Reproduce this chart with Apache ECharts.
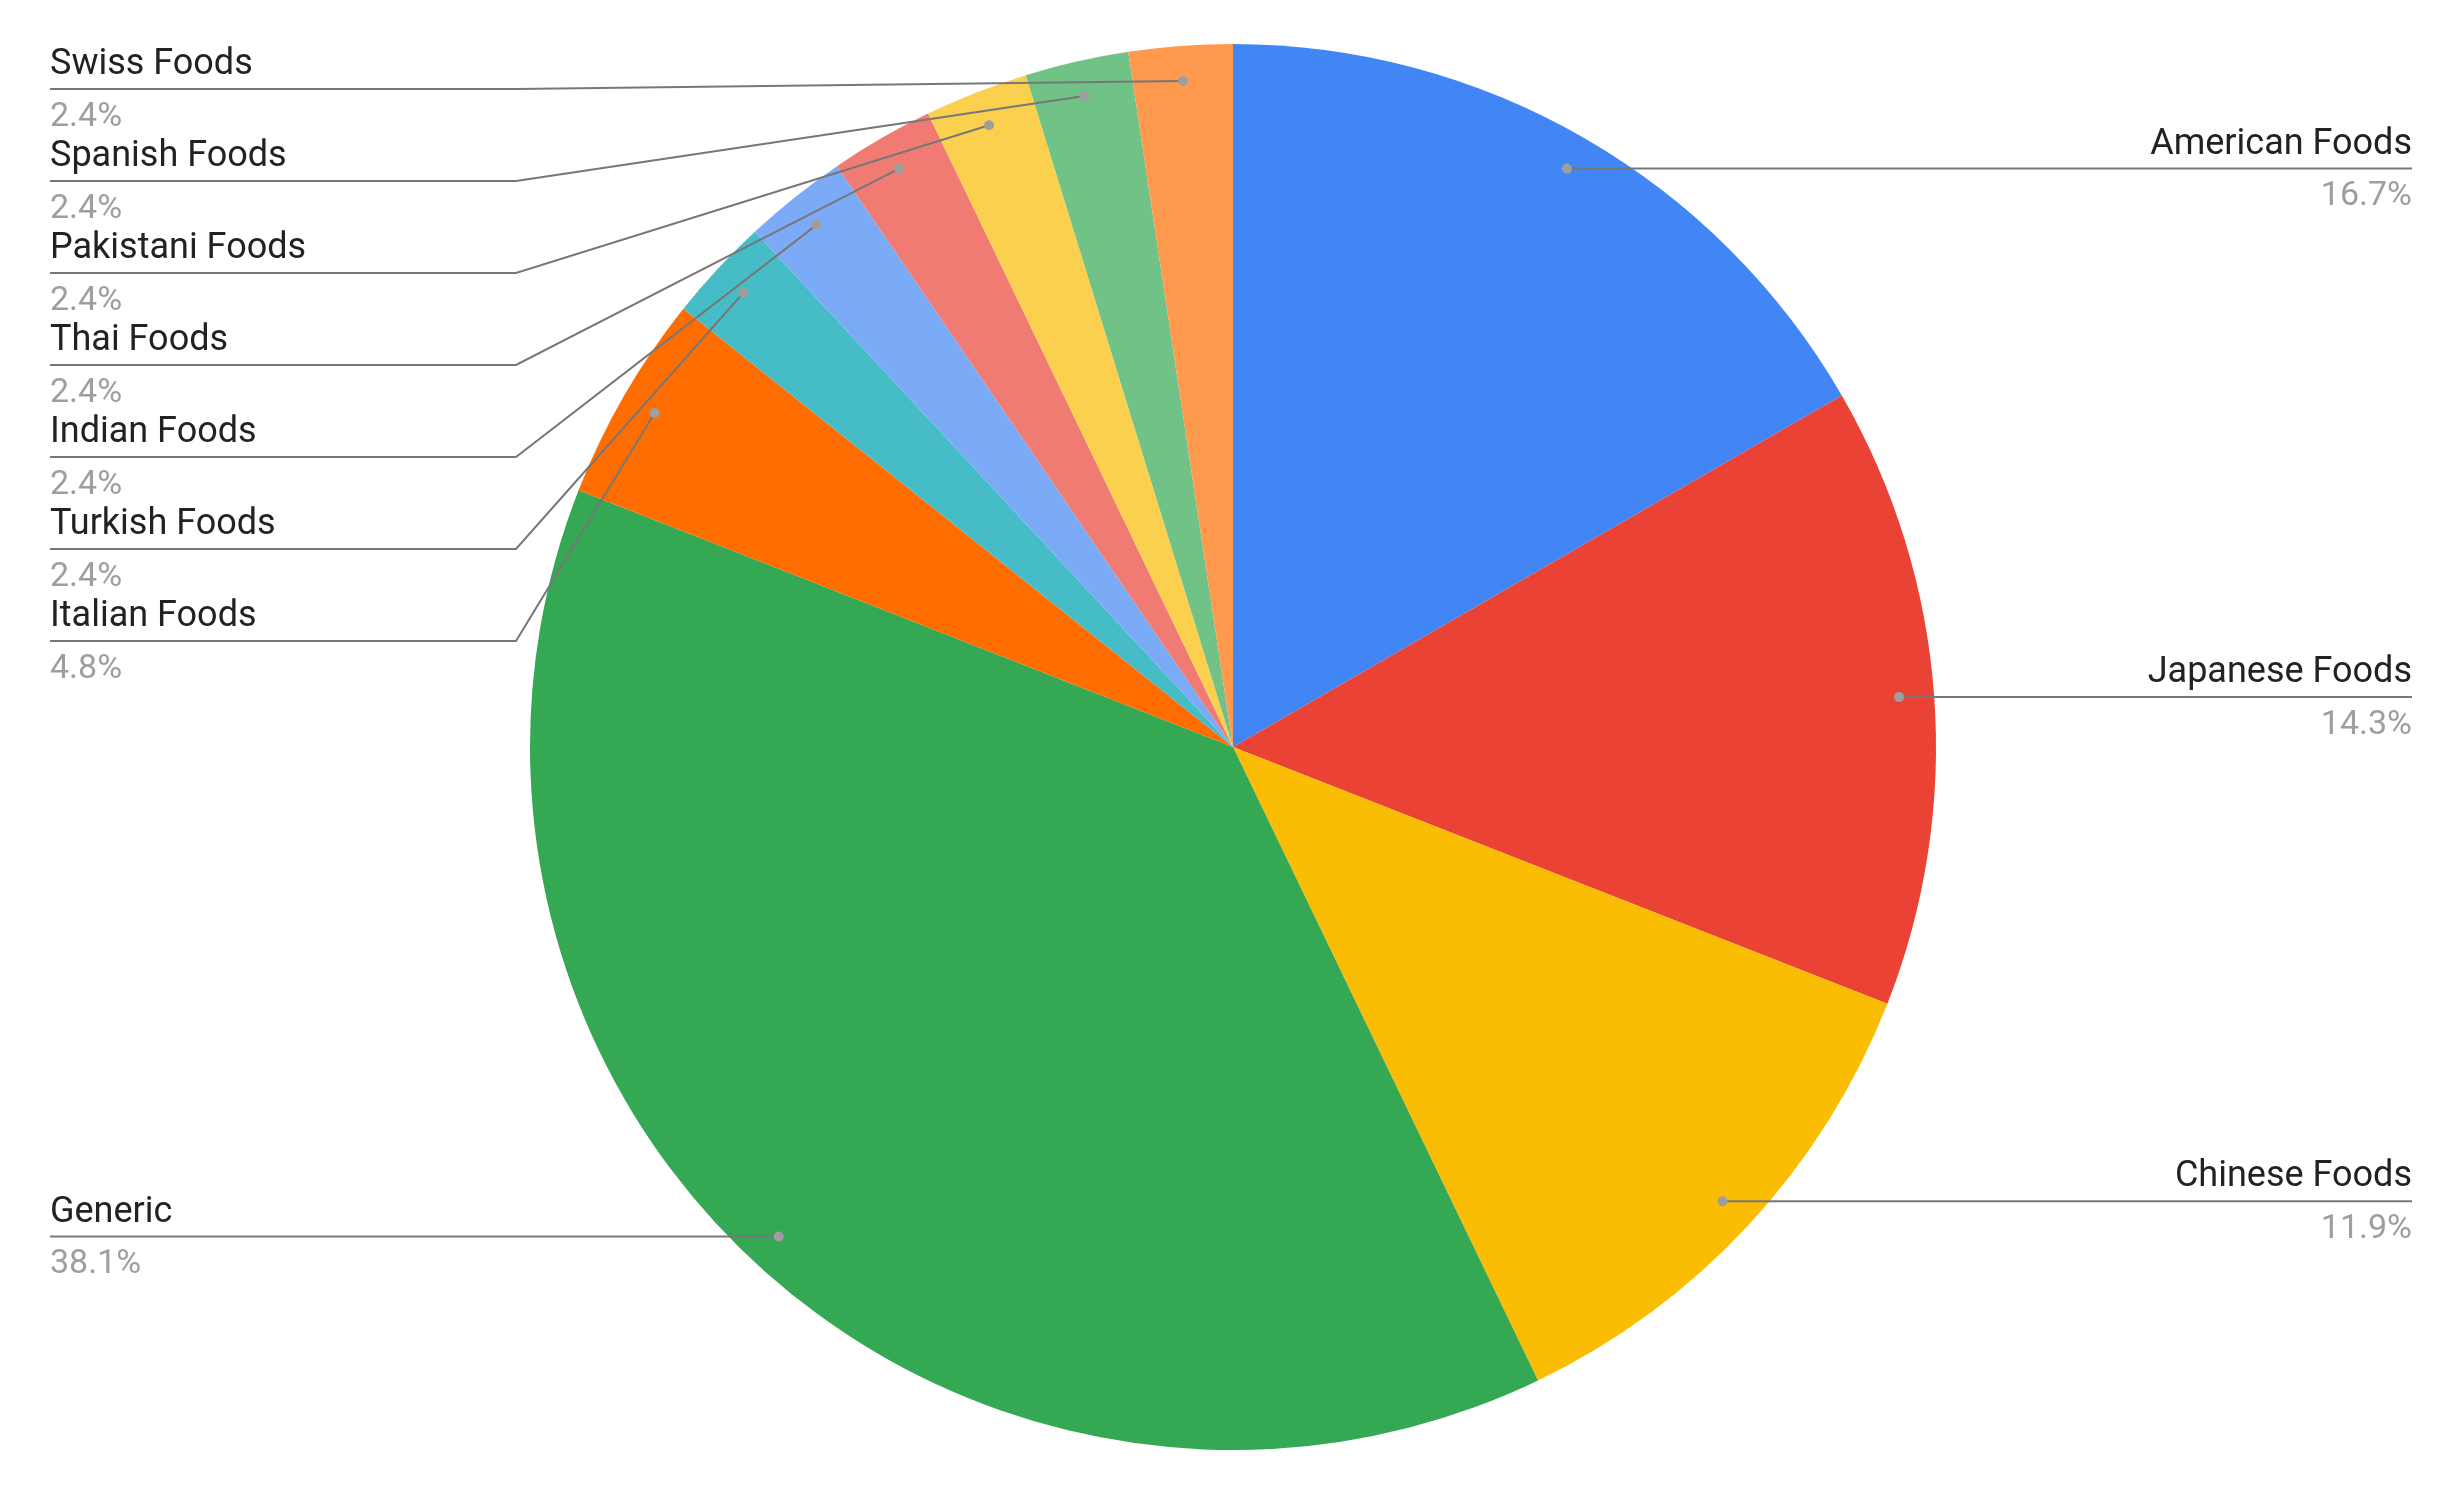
<!DOCTYPE html>
<html><head><meta charset="utf-8">
<script src="https://cdn.jsdelivr.net/npm/echarts@6/dist/echarts.min.js"></script>
<style>html,body{margin:0;padding:0;background:#fff}#c{width:2459px;height:1504px}</style>
</head><body><div id="c"></div>
<script>
const categories = ['American Foods', 'Japanese Foods', 'Chinese Foods', 'Generic', 'Italian Foods', 'Turkish Foods', 'Indian Foods', 'Thai Foods', 'Pakistani Foods', 'Spanish Foods', 'Swiss Foods'];
const counts = [7, 6, 5, 16, 2, 1, 1, 1, 1, 1, 1];
const colors = ['#4285F4', '#EA4335', '#FBBC04', '#34A853', '#FF6D01', '#46BDC6', '#7BAAF7', '#F07B72', '#FCD04F', '#71C287', '#FF994D'];

const W = 2459, H = 1504;
const CX = 1233, CY = 747, R = 703, DOT_R = 0.95;
const LEFT_X = 50, RIGHT_X = 2412, BEND_X = 516, GAP = 92, TOP_Y = 89;

const total = counts.reduce((a, b) => a + b, 0);
const mids = [];
let acc = 0;
counts.forEach(v => { mids.push(acc + v / 2); acc += v; });

const info = mids.map((m, i) => {
  const a = m / total * 2 * Math.PI;
  const px = CX + DOT_R * R * Math.sin(a), py = CY - DOT_R * R * Math.cos(a);
  return { i, px, py, left: Math.sin(a) < 0, y: py };
});
[true, false].forEach(side => {
  const list = info.filter(d => d.left === side).sort((a, b) => a.py - b.py);
  let prev = -Infinity;
  list.forEach(d => { d.y = Math.max(d.py, prev + GAP, TOP_Y); prev = d.y; });
});
const leaderLines = info.map(d => {
  const ex = d.left ? LEFT_X : RIGHT_X;
  const moved = Math.abs(d.y - d.py) > 0.5;
  const mid = moved ? [d.left ? BEND_X : (2 * CX - BEND_X), d.y] : [(d.px + ex) / 2, d.y];
  return { coords: [[d.px, d.py], mid, [ex, d.y]] };
});

const chart = echarts.init(document.getElementById('c'), null, { renderer: 'canvas' });
chart.setOption({
  animation: false,
  backgroundColor: '#fff',
  grid: { left: 0, top: 0, width: W, height: H, show: false },
  xAxis: { type: 'value', min: 0, max: W, show: false },
  yAxis: { type: 'value', min: 0, max: H, inverse: true, show: false },
  polar: { center: [CX, CY], radius: R },
  angleAxis: { type: 'value', min: 0, max: total, startAngle: 90, clockwise: true, show: false },
  radiusAxis: { type: 'value', min: 0, max: 1, show: false },
  series: [
    {
      type: 'pie',
      center: [CX, CY],
      radius: R,
      startAngle: 90,
      clockwise: true,
      avoidLabelOverlap: false,
      emphasis: { disabled: true },
      data: categories.map((c, i) => ({ name: c, value: counts[i], itemStyle: { color: colors[i] } })),
      label: {
        show: true,
        position: 'outside',
        formatter: p => '{n|' + p.name + '}\n{p|' + (p.value / total * 100).toFixed(1) + '%}',
        rich: {
          n: { fontSize: 36, color: '#222222', lineHeight: 52, fontFamily: 'Roboto' },
          p: { fontSize: 34, color: '#9e9e9e', lineHeight: 52, fontFamily: 'Roboto' }
        }
      },
      labelLine: { show: false },
      labelLayout: function (params) {
        const d = info[params.dataIndex];
        return {
          x: d.left ? LEFT_X : RIGHT_X, y: d.y + 2,
          align: d.left ? 'left' : 'right',
          verticalAlign: 'middle'
        };
      }
    },
    {
      type: 'lines',
      coordinateSystem: 'cartesian2d',
      polyline: true,
      silent: true,
      z: 4,
      lineStyle: { color: '#777777', width: 2, opacity: 1 },
      data: leaderLines
    },
    {
      type: 'scatter',
      coordinateSystem: 'polar',
      z: 5,
      silent: true,
      symbol: 'circle',
      symbolSize: 10,
      itemStyle: { color: '#9e9e9e', opacity: 1 },
      data: mids.map(m => [DOT_R, m])
    }
  ]
});
</script>
</body></html>
